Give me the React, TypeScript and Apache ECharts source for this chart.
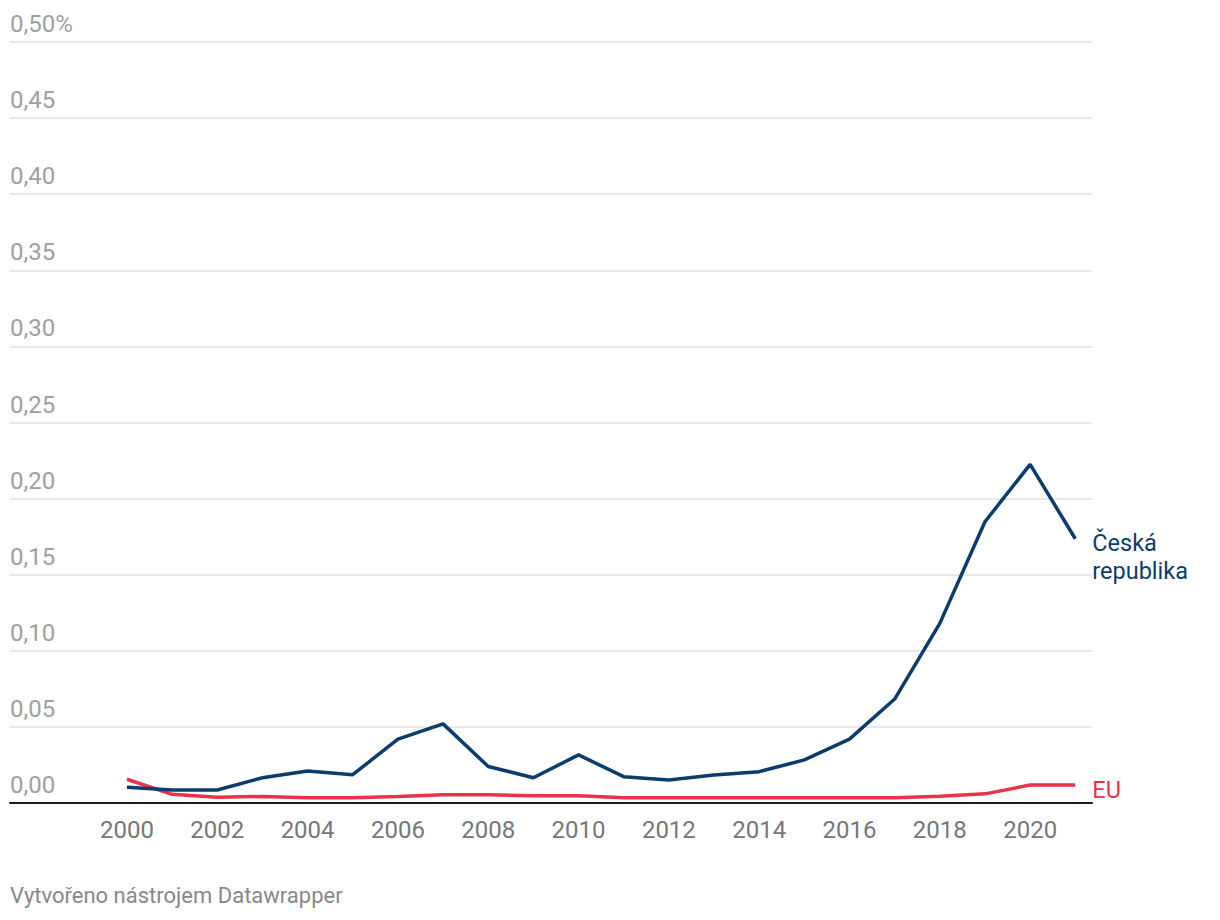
import React, { useEffect, useRef } from "react";
import * as echarts from "echarts";

const years = [2000, 2001, 2002, 2003, 2004, 2005, 2006, 2007, 2008, 2009, 2010, 2011, 2012, 2013, 2014, 2015, 2016, 2017, 2018, 2019, 2020, 2021];
const czValues = [0.0104, 0.0085, 0.0085, 0.0166, 0.021, 0.0186, 0.042, 0.052, 0.024, 0.0166, 0.0316, 0.0173, 0.0151, 0.0184, 0.0206, 0.0283, 0.042, 0.0683, 0.118, 0.1848, 0.2225, 0.1736];
const euValues = [0.0156, 0.0057, 0.0037, 0.0043, 0.0034, 0.0034, 0.0043, 0.0055, 0.0055, 0.0047, 0.0047, 0.0034, 0.0034, 0.0034, 0.0034, 0.0034, 0.0034, 0.0034, 0.0045, 0.006, 0.0118, 0.0118];
const xTickLabels = [2000, 2002, 2004, 2006, 2008, 2010, 2012, 2014, 2016, 2018, 2020];
const czName = "Česká republika";
const euName = "EU";
const footer = "Vytvořeno nástrojem Datawrapper";

const FONT = "Roboto";

export default function App() {
  const ref = useRef<HTMLDivElement>(null);
  useEffect(() => {
    if (!ref.current) return;
    const chart = echarts.init(ref.current, undefined, { renderer: "svg" });
    const fmtY = (v: number) => {
      const s = v.toFixed(2).replace(".", ",");
      return Math.abs(v - 0.5) < 1e-9 ? s + "%" : s;
    };
    chart.setOption({
      animation: false,
      backgroundColor: "#ffffff",
      textStyle: { fontFamily: FONT },
      grid: { left: 10, right: 128, top: 42, bottom: 117, containLabel: false },
      graphic: [
        {
          type: "text",
          left: 10,
          top: 884,
          style: { text: footer, fill: "#888888", font: `22px ${FONT}` },
        },
      ],
      xAxis: {
        type: "value",
        min: 1997.41,
        max: 2021.37,
        axisLine: { show: true, lineStyle: { color: "#1d1d1d", width: 2 } },
        axisTick: { show: false },
        splitLine: { show: false },
        axisLabel: {
          customValues: xTickLabels,
          color: "#777777",
          fontSize: 24,
          fontFamily: FONT,
          margin: 15,
          formatter: (v: number) => String(v),
        },
      },
      yAxis: {
        type: "value",
        min: 0,
        max: 0.5,
        interval: 0.05,
        axisLine: { show: false },
        axisTick: { show: false },
        splitLine: { show: true, lineStyle: { color: "#e0e0e0", width: 1.5 } },
        axisLabel: {
          inside: true,
          margin: 0,
          color: "#a0a0a0",
          fontSize: 24,
          fontFamily: FONT,
          verticalAlign: "bottom",
          lineHeight: 24,
          padding: [0, 0, 6, 0],
          formatter: fmtY,
        },
      },
      series: [
        {
          name: euName,
          type: "line",
          data: years.map((y, i) => [y, euValues[i]]),
          showSymbol: false,
          symbol: "none",
          lineStyle: { color: "#e8334a", width: 3.5 },
          itemStyle: { color: "#e8334a" },
          endLabel: {
            show: true,
            formatter: euName,
            color: "#e8334a",
            fontSize: 23.5,
            fontFamily: FONT,
            distance: 17,
            offset: [0, 5],
          },
          z: 2,
        },
        {
          name: czName,
          type: "line",
          data: years.map((y, i) => [y, czValues[i]]),
          showSymbol: false,
          symbol: "none",
          lineStyle: { color: "#0b3c6e", width: 3.5 },
          itemStyle: { color: "#0b3c6e" },
          endLabel: {
            show: true,
            formatter: "Česká\nrepublika",
            color: "#0b3c6e",
            fontSize: 23.5,
            lineHeight: 28,
            fontFamily: FONT,
            distance: 17,
            offset: [0, 18],
          },
          z: 3,
        },
      ],
    });
    return () => chart.dispose();
  }, []);
  return (
    <div
      ref={ref}
      style={{ position: "fixed", left: 0, top: 0, width: 1220, height: 920, background: "#fff" }}
    />
  );
}
